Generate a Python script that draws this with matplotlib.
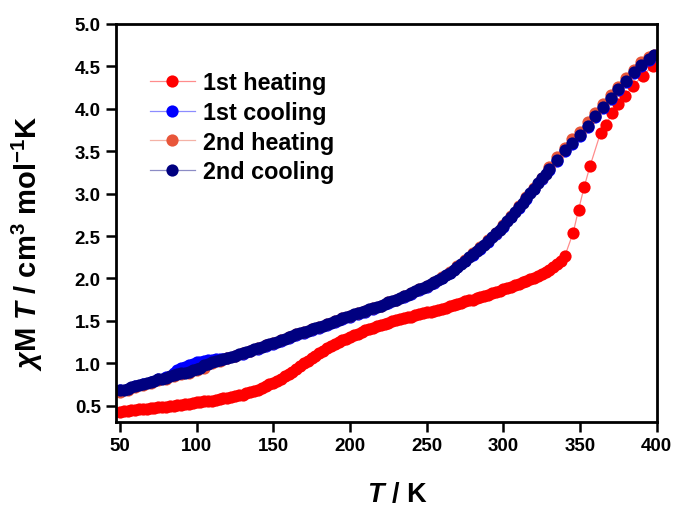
import matplotlib
matplotlib.use("Agg")
import matplotlib.pyplot as plt

plt.rcParams['font.family'] = ['Liberation Sans', 'DejaVu Sans']
plt.rcParams['font.weight'] = 'bold'
plt.rcParams['mathtext.fontset'] = 'custom'
plt.rcParams['mathtext.rm'] = 'Liberation Sans:bold'
plt.rcParams['mathtext.it'] = 'Liberation Sans:italic'
plt.rcParams['mathtext.sf'] = 'Liberation Sans:bold:italic'

# 1st heating: smooth rise, then abrupt jump above 340 K
heat1_T = [50, 52.5, 55, 57.5, 60, 62.5, 65, 67.5, 70, 72.5, 75, 77.5, 80, 82.5,
           85, 87.5, 90, 92.5, 95, 97.5, 100, 102.5, 105, 107.5, 110, 112.5, 115,
           117.5, 120, 122.5, 125, 127.5, 130, 132.5, 135, 137.5, 140, 142.5, 145,
           147.5, 150, 152.5, 155, 157.5, 160, 162.5, 165, 167.5, 170, 172.5, 175,
           177.5, 180, 182.5, 185, 187.5, 190, 192.5, 195, 197.5, 200, 202.5, 205,
           207.5, 210, 212.5, 215, 217.5, 220, 222.5, 225, 227.5, 230, 232.5, 235,
           237.5, 240, 242.5, 245, 247.5, 250, 252.5, 255, 257.5, 260, 262.5, 265,
           267.5, 270, 272.5, 275, 277.5, 280, 282.5, 285, 287.5, 290, 292.5, 295,
           297.5, 300, 302.5, 305, 307.5, 310, 312.5, 315, 317.5, 320, 322.5, 325,
           327.5, 330, 332.5, 335, 337.5, 340,
           345.5, 349, 352.7, 356.4, 363.4, 366.8, 371, 374.8, 379.2, 384.6, 390.7,
           397.6]
heat1_chi = [0.43, 0.435, 0.44, 0.445, 0.45, 0.455, 0.46, 0.465, 0.47, 0.475, 0.48,
             0.485, 0.49, 0.495, 0.50, 0.505, 0.51, 0.515, 0.52, 0.53, 0.54, 0.545,
             0.55, 0.555, 0.56, 0.57, 0.58, 0.585, 0.59, 0.60, 0.61, 0.62, 0.63,
             0.645, 0.66, 0.675, 0.69, 0.71, 0.73, 0.75, 0.77, 0.795, 0.82, 0.845,
             0.87, 0.90, 0.93, 0.965, 1.00, 1.03, 1.06, 1.09, 1.12, 1.15, 1.18,
             1.205, 1.23, 1.25, 1.27, 1.29, 1.31, 1.33, 1.35, 1.37, 1.39, 1.405,
             1.42, 1.435, 1.45, 1.465, 1.48, 1.495, 1.51, 1.52, 1.53, 1.54, 1.55,
             1.565, 1.58, 1.59, 1.60, 1.61, 1.62, 1.63, 1.64, 1.655, 1.67, 1.685,
             1.70, 1.715, 1.73, 1.74, 1.75, 1.765, 1.78, 1.795, 1.81, 1.825, 1.84,
             1.855, 1.87, 1.885, 1.90, 1.92, 1.94, 1.955, 1.97, 1.99, 2.01, 2.03,
             2.05, 2.075, 2.10, 2.13, 2.17, 2.21, 2.26,
             2.54, 2.81, 3.08, 3.32, 3.72, 3.81, 3.95, 4.06, 4.15, 4.27, 4.39, 4.51]

# 1st cooling: hidden under the 2nd cooling except for a bump near 100 K
cool1_T = [50, 55, 60, 65, 70, 75, 80, 85, 87.5, 90, 92.5, 95, 97.5, 100, 102.5,
           105, 107.5, 110, 112.5, 115, 117.5, 120, 125, 130, 135, 140, 145, 150,
           155, 160, 165, 170, 175, 180, 185, 190, 195, 200, 205, 210, 215, 220,
           225, 230, 235, 240, 245, 250, 255, 260, 265, 270, 275, 280, 285, 290,
           295, 300, 305, 310, 315, 320, 325, 330, 335, 340, 345, 350, 355, 360,
           365, 370, 375, 380, 385, 390, 395, 398]
cool1_chi = [0.69, 0.70, 0.73, 0.75, 0.78, 0.81, 0.84, 0.89, 0.915, 0.94, 0.96,
             0.98, 0.995, 1.01, 1.02, 1.03, 1.035, 1.04, 1.045, 1.05, 1.055, 1.06,
             1.08, 1.11, 1.14, 1.17, 1.20, 1.23, 1.26, 1.30, 1.33, 1.36, 1.39,
             1.42, 1.45, 1.49, 1.52, 1.55, 1.58, 1.61, 1.64, 1.67, 1.71, 1.74,
             1.78, 1.82, 1.86, 1.90, 1.95, 2.00, 2.06, 2.13, 2.20, 2.28, 2.35,
             2.43, 2.52, 2.61, 2.72, 2.83, 2.94, 3.05, 3.17, 3.28, 3.39, 3.50,
             3.59, 3.68, 3.79, 3.90, 4.01, 4.12, 4.22, 4.32, 4.42, 4.51, 4.58, 4.62]

# 2nd heating: almost on top of the cooling branches
heat2_T = [50, 55, 60, 65, 70, 75, 80, 85, 90, 95, 100, 105, 110, 115, 120, 125,
           130, 135, 140, 145, 150, 155, 160, 165, 170, 175, 180, 185, 190, 195,
           200, 205, 210, 215, 220, 225, 230, 235, 240, 245, 250, 255, 260, 265,
           270, 275, 280, 285, 290, 295, 300, 305, 310, 315, 320, 325, 330, 335,
           340, 345, 350, 355, 360, 365, 370, 375, 380, 385, 390, 395, 398]
heat2_chi = [0.66, 0.69, 0.72, 0.74, 0.77, 0.80, 0.82, 0.85, 0.87, 0.89, 0.92, 0.95,
             1.00, 1.03, 1.06, 1.09, 1.12, 1.15, 1.18, 1.21, 1.24, 1.27, 1.31, 1.34,
             1.37, 1.40, 1.43, 1.46, 1.50, 1.53, 1.56, 1.59, 1.62, 1.65, 1.68, 1.72,
             1.75, 1.79, 1.83, 1.87, 1.91, 1.96, 2.02, 2.08, 2.15, 2.22, 2.30, 2.37,
             2.45, 2.54, 2.63, 2.74, 2.85, 2.96, 3.07, 3.19, 3.31, 3.43, 3.54, 3.64,
             3.73, 3.84, 3.95, 4.06, 4.16, 4.26, 4.36, 4.46, 4.55, 4.61, 4.64]

# 2nd cooling
cool2_T = [50, 52.5, 55, 57.5, 60, 62.5, 65, 67.5, 70, 72.5, 75, 77.5, 80, 82.5,
           85, 87.5, 90, 92.5, 95, 97.5, 100, 102.5, 105, 107.5, 110, 112.5, 115,
           117.5, 120, 122.5, 125, 127.5, 130, 132.5, 135, 137.5, 140, 142.5, 145,
           147.5, 150, 152.5, 155, 157.5, 160, 162.5, 165, 167.5, 170, 172.5, 175,
           177.5, 180, 182.5, 185, 187.5, 190, 192.5, 195, 197.5, 200, 202.5, 205,
           207.5, 210, 212.5, 215, 217.5, 220, 222.5, 225, 227.5, 230, 232.5, 235,
           237.5, 240, 242.5, 245, 247.5, 250, 252.5, 255, 257.5, 260, 262.5, 265,
           267.5, 270, 272.5, 275, 277.5, 280, 282.5, 285, 287.5, 290, 292.5, 295,
           297.5, 300, 302.5, 305, 307.5, 310, 312.5, 315, 317.5, 320, 322.5, 325,
           327.5, 330, 335, 340, 345, 350, 355, 360, 365, 370, 375, 380, 385, 390,
           395, 398]
cool2_chi = [0.68, 0.69, 0.70, 0.715, 0.73, 0.74, 0.75, 0.765, 0.78, 0.795, 0.81,
             0.82, 0.83, 0.845, 0.86, 0.87, 0.88, 0.89, 0.90, 0.915, 0.93, 0.95,
             0.98, 0.995, 1.01, 1.025, 1.04, 1.05, 1.06, 1.075, 1.09, 1.105, 1.12,
             1.135, 1.15, 1.165, 1.18, 1.195, 1.21, 1.225, 1.24, 1.255, 1.27, 1.29,
             1.31, 1.325, 1.34, 1.355, 1.37, 1.385, 1.40, 1.415, 1.43, 1.445, 1.46,
             1.48, 1.50, 1.515, 1.53, 1.545, 1.56, 1.575, 1.59, 1.605, 1.62, 1.635,
             1.65, 1.665, 1.68, 1.70, 1.72, 1.735, 1.75, 1.77, 1.79, 1.81, 1.83,
             1.85, 1.87, 1.89, 1.91, 1.935, 1.96, 1.985, 2.01, 2.04, 2.07, 2.105,
             2.14, 2.175, 2.21, 2.25, 2.29, 2.325, 2.36, 2.40, 2.44, 2.485, 2.53,
             2.575, 2.62, 2.675, 2.73, 2.785, 2.84, 2.895, 2.95, 3.005, 3.06, 3.12,
             3.18, 3.235, 3.29, 3.40, 3.51, 3.60, 3.69, 3.80, 3.91, 4.02, 4.13,
             4.23, 4.33, 4.43, 4.52, 4.59, 4.63]

series = [
    (heat1_T, heat1_chi, '#FF0000', '1st heating'),
    (cool1_T, cool1_chi, '#0000FF', '1st cooling'),
    (heat2_T, heat2_chi, '#E8563A', '2nd heating'),
    (cool2_T, cool2_chi, '#000080', '2nd cooling'),
]

fig = plt.figure(figsize=(6.75, 5.1), dpi=100)
ax = fig.add_axes([0.172, 0.171, 0.801, 0.780])

for T, chi, c, lab in series:
    rgb = matplotlib.colors.to_rgb(c)
    ax.plot(T, chi, '-o', color=(*rgb, 0.45), lw=0.9,
            ms=8.8, mfc=c, mec=c, mew=0, label=lab)

ax.set_xlim(47.5, 400)
ax.set_ylim(0.31, 5.0)
ax.set_xticks([50, 100, 150, 200, 250, 300, 350, 400])
ax.set_yticks([0.5, 1.0, 1.5, 2.0, 2.5, 3.0, 3.5, 4.0, 4.5, 5.0])
ax.set_yticklabels(['%.1f' % v for v in ax.get_yticks()])

for s in ax.spines.values():
    s.set_linewidth(2.0)
ax.tick_params(direction='out', length=7, width=1.8, pad=4,
               labelsize=13.5, top=False, right=False)
for lbl in ax.get_xticklabels() + ax.get_yticklabels():
    lbl.set_fontweight('bold')

ax.set_xlabel(r'$\mathsf{T}$ / K', fontsize=19.5, fontweight='bold')
ax.xaxis.set_label_coords(0.52, -0.15)
ax.set_ylabel(r'$\chi$M $\mathsf{T}$ / cm$^{3}$ mol$^{-1}$K',
              fontsize=21, fontweight='bold')
ax.yaxis.set_label_coords(-0.132, 0.45)

leg = ax.legend(loc='upper left', bbox_to_anchor=(0.046, 0.905), frameon=False,
                numpoints=1, handlelength=1.9, handletextpad=0.35,
                labelspacing=0.29, borderaxespad=0,
                prop={'size': 16.8, 'weight': 'bold'})

fig.savefig('out.png', dpi=100, facecolor='white')
